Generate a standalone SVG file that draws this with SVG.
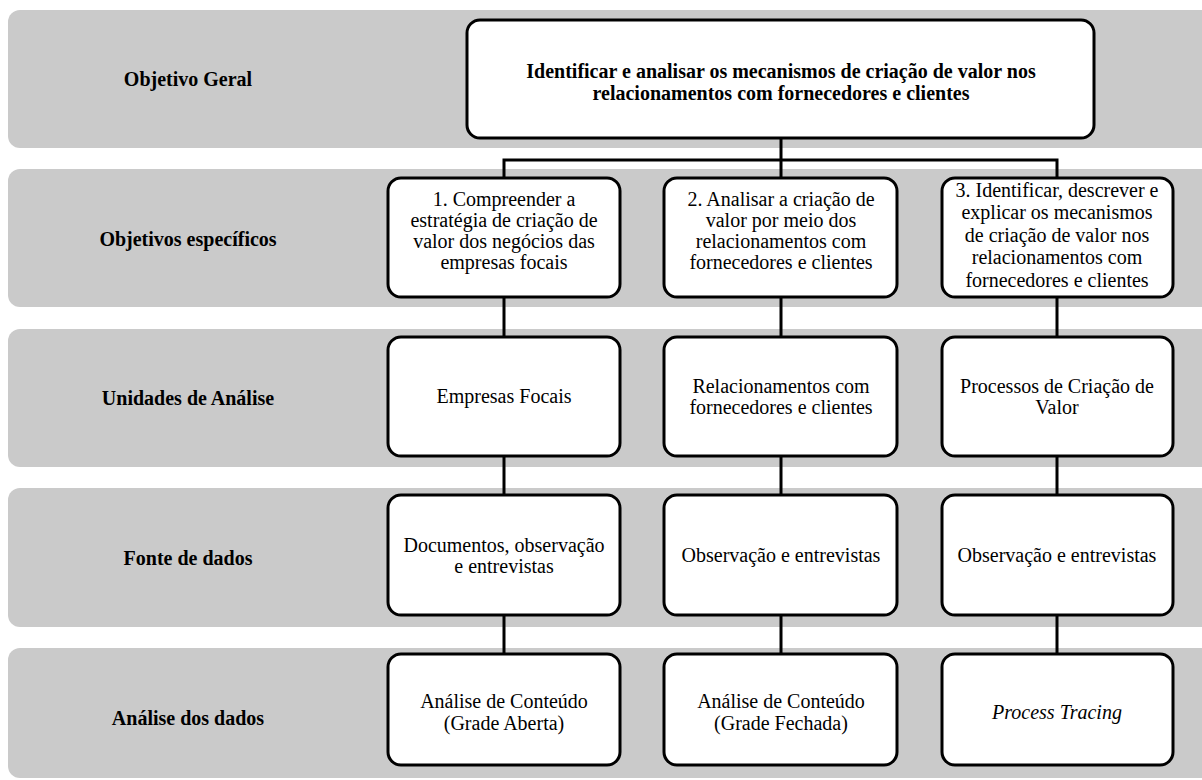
<svg xmlns="http://www.w3.org/2000/svg" width="1202" height="780" viewBox="0 0 1202 780">
  <style>
    .band { fill: #cacaca; }
    .box { fill: #ffffff; stroke: #000000; stroke-width: 3; }
    .link { fill: none; stroke: #000000; stroke-width: 3; }
    text { font-family: "Liberation Serif", "Times New Roman", serif; fill: #000000; text-anchor: middle; font-size: 20px; }
    .label, .title { font-weight: bold; }
    .it { font-style: italic; }
  </style>
  <rect width="1202" height="780" fill="#ffffff"/>

  <!-- horizontal bands, one per level -->
  <g id="bands">
    <rect class="band" x="8" y="10" width="1210" height="138" rx="12"/>
    <rect class="band" x="8" y="169" width="1210" height="138" rx="12"/>
    <rect class="band" x="8" y="329" width="1210" height="138" rx="12"/>
    <rect class="band" x="8" y="488" width="1210" height="139" rx="12"/>
    <rect class="band" x="8" y="648" width="1210" height="130" rx="12"/>
  </g>

  <!-- level labels -->
  <g id="labels">
    <text class="label" x="188" y="86">Objetivo Geral</text>
    <text class="label" x="188" y="246">Objetivos específicos</text>
    <text class="label" x="188" y="405">Unidades de Análise</text>
    <text class="label" x="188" y="565">Fonte de dados</text>
    <text class="label" x="188" y="725">Análise dos dados</text>
  </g>

  <!-- connectors -->
  <g id="connectors">
    <path class="link" d="M781 138 V160 M504 178 V160 H1057 V178 M781 160 V178"/>
    <path class="link" d="M504 297 V337 M781 297 V337 M1057 297 V337"/>
    <path class="link" d="M504 456 V495 M781 456 V495 M1057 456 V495"/>
    <path class="link" d="M504 615 V654 M781 615 V654 M1057 615 V654"/>
  </g>

  <g id="objetivo-geral">
    <rect class="box" x="467" y="20" width="627" height="118" rx="13"/>
    <text class="title" x="781" y="78">Identificar e analisar os mecanismos de criação de valor nos</text>
    <text class="title" x="781" y="100">relacionamentos com fornecedores e clientes</text>
  </g>

  <g id="objetivo-1">
    <rect class="box" x="388" y="178" width="232" height="119" rx="13"/>
    <text x="504" y="206">1. Compreender a</text>
    <text x="504" y="227">estratégia de criação de</text>
    <text x="504" y="248">valor dos negócios das</text>
    <text x="504" y="269">empresas focais</text>
  </g>
  <g id="objetivo-2">
    <rect class="box" x="664" y="178" width="233" height="119" rx="13"/>
    <text x="781" y="206">2. Analisar a criação de</text>
    <text x="781" y="227">valor por meio dos</text>
    <text x="781" y="248">relacionamentos com</text>
    <text x="781" y="269">fornecedores e clientes</text>
  </g>
  <g id="objetivo-3">
    <rect class="box" x="942" y="178" width="231" height="119" rx="13"/>
    <text x="1057" y="197">3. Identificar, descrever e</text>
    <text x="1057" y="219">explicar os mecanismos</text>
    <text x="1057" y="242">de criação de valor nos</text>
    <text x="1057" y="264">relacionamentos com</text>
    <text x="1057" y="287">fornecedores e clientes</text>
  </g>

  <g id="unidade-1">
    <rect class="box" x="388" y="337" width="232" height="119" rx="13"/>
    <text x="504" y="403">Empresas Focais</text>
  </g>
  <g id="unidade-2">
    <rect class="box" x="664" y="337" width="233" height="119" rx="13"/>
    <text x="781" y="393">Relacionamentos com</text>
    <text x="781" y="414">fornecedores e clientes</text>
  </g>
  <g id="unidade-3">
    <rect class="box" x="942" y="337" width="231" height="119" rx="13"/>
    <text x="1057" y="393">Processos de Criação de</text>
    <text x="1057" y="414">Valor</text>
  </g>

  <g id="fonte-1">
    <rect class="box" x="388" y="495" width="232" height="120" rx="13"/>
    <text x="504" y="552">Documentos, observação</text>
    <text x="504" y="573">e entrevistas</text>
  </g>
  <g id="fonte-2">
    <rect class="box" x="664" y="495" width="233" height="120" rx="13"/>
    <text x="781" y="562">Observação e entrevistas</text>
  </g>
  <g id="fonte-3">
    <rect class="box" x="942" y="495" width="231" height="120" rx="13"/>
    <text x="1057" y="562">Observação e entrevistas</text>
  </g>

  <g id="analise-1">
    <rect class="box" x="388" y="654" width="232" height="111" rx="13"/>
    <text x="504" y="708">Análise de Conteúdo</text>
    <text x="504" y="730">(Grade Aberta)</text>
  </g>
  <g id="analise-2">
    <rect class="box" x="664" y="654" width="233" height="111" rx="13"/>
    <text x="781" y="708">Análise de Conteúdo</text>
    <text x="781" y="730">(Grade Fechada)</text>
  </g>
  <g id="analise-3">
    <rect class="box" x="942" y="654" width="231" height="111" rx="13"/>
    <text class="it" x="1057" y="719">Process Tracing</text>
  </g>
</svg>
